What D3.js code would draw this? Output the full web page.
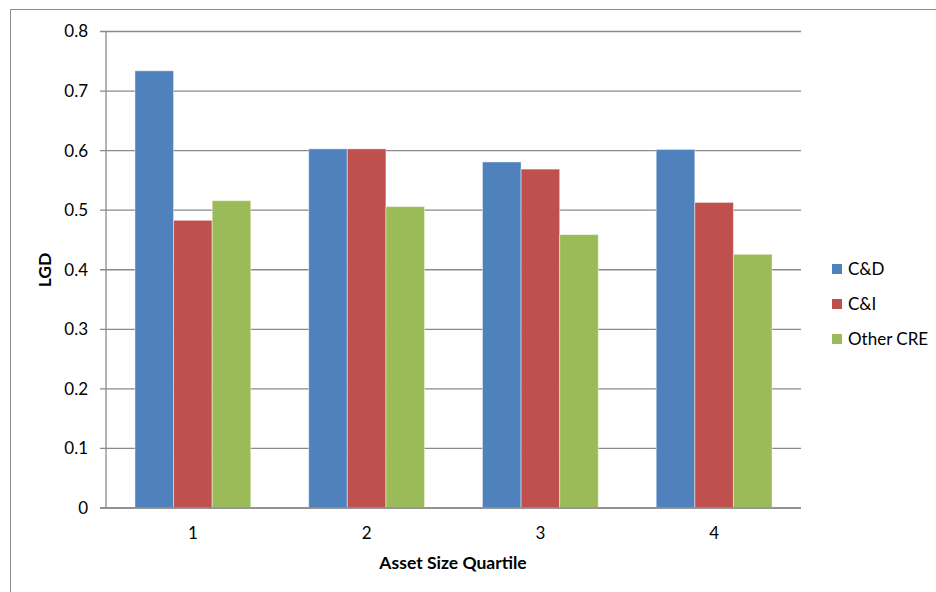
<!DOCTYPE html>
<html>
<head>
<meta charset="utf-8">
<script src="https://cdn.jsdelivr.net/npm/d3@7"></script>
<style>
  body { margin: 0; background: #fff; }
  svg { font-family: Lato, "Open Sans", sans-serif; }
</style>
</head>
<body>
<svg id="chart" width="936" height="592"></svg>
<script>
// Data
const quartiles = ["1", "2", "3", "4"];
const seriesNames = ["C&D", "C&I", "Other CRE"];
const cdValues = [0.734, 0.603, 0.581, 0.602];
const ciValues = [0.483, 0.603, 0.569, 0.513];
const otherCreValues = [0.516, 0.506, 0.459, 0.426];
const yTicks = [0, 0.1, 0.2, 0.3, 0.4, 0.5, 0.6, 0.7, 0.8];
const colors = ["#4F81BD", "#C0504D", "#9BBB59"];

const allSeries = [cdValues, ciValues, otherCreValues];

const svg = d3.select("svg#chart");

// outer chart border (Excel style)
svg.append("path")
    .attr("d", "M10.5,600 V9.5 H940")
    .attr("fill", "none")
    .attr("stroke", "#8c8c8c")
    .attr("stroke-width", 1);

const plotLeft = 106, plotRight = 801, plotTop = 31.5, plotBottom = 508;

const xScale = d3.scaleBand().domain(quartiles).range([plotLeft, plotRight]).paddingInner(0).paddingOuter(0);
const yScale = d3.scaleLinear().domain([0, 0.8]).range([plotBottom, plotTop]);

// Gridlines
svg.append("g")
    .selectAll("line")
    .data(yTicks)
    .enter()
    .append("line")
    .attr("x1", plotLeft - 6)
    .attr("x2", plotRight)
    .attr("y1", d => yScale(d))
    .attr("y2", d => yScale(d))
    .attr("stroke", "#8a8a8a")
    .attr("stroke-width", 1.3);

// Y axis labels
svg.append("g")
    .selectAll("text")
    .data(yTicks)
    .enter()
    .append("text")
    .attr("x", 88)
    .attr("y", d => yScale(d))
    .attr("dy", "0.35em")
    .attr("text-anchor", "end")
    .attr("font-size", 17)
    .attr("fill", "#000")
    .text(d => d === 0 ? "0" : d3.format(".1f")(d));

// Bars: gap width 150% -> bar = band / 4.5
const barW = xScale.bandwidth() / 4.5;
const sub = d3.scaleBand().domain(d3.range(3)).range([0, barW * 3]);

const groups = svg.append("g")
    .selectAll("g")
    .data(quartiles)
    .enter()
    .append("g")
    .attr("transform", d => `translate(${xScale(d) + barW * 0.75},0)`);

groups.selectAll("rect")
    .data((q, i) => allSeries.map((s, j) => ({ j: j, v: s[i] })))
    .enter()
    .append("rect")
    .attr("x", d => sub(d.j))
    .attr("width", sub.bandwidth())
    .attr("y", d => yScale(d.v))
    .attr("height", d => yScale(0) - yScale(d.v))
    .attr("fill", d => colors[d.j])
    .attr("stroke", "rgba(255,255,255,0.45)")
    .attr("stroke-width", 1);

// Axis lines
svg.append("line")
    .attr("x1", plotLeft).attr("x2", plotLeft)
    .attr("y1", plotTop).attr("y2", plotBottom)
    .attr("stroke", "#8a8a8a").attr("stroke-width", 1.3);
svg.append("line")
    .attr("x1", plotLeft - 6).attr("x2", plotRight)
    .attr("y1", plotBottom).attr("y2", plotBottom)
    .attr("stroke", "#8a8a8a").attr("stroke-width", 1.3);

// X axis labels
svg.append("g")
    .selectAll("text")
    .data(quartiles)
    .enter()
    .append("text")
    .attr("x", d => xScale(d) + xScale.bandwidth() / 2)
    .attr("y", 533)
    .attr("dy", "0.35em")
    .attr("text-anchor", "middle")
    .attr("font-size", 17)
    .text(d => d);

// Axis titles
svg.append("text")
    .attr("x", 453)
    .attr("y", 563)
    .attr("dy", "0.35em")
    .attr("text-anchor", "middle")
    .attr("font-size", 17.5)
    .attr("font-weight", "bold")
    .text("Asset Size Quartile");

svg.append("text")
    .attr("transform", "translate(45,270) rotate(-90)")
    .attr("dy", "0.35em")
    .attr("text-anchor", "middle")
    .attr("font-size", 17.5)
    .attr("font-weight", "bold")
    .text("LGD");

// Legend
const legendY = d3.scalePoint().domain(seriesNames).range([269, 339]);
const legend = svg.append("g")
    .selectAll("g")
    .data(seriesNames)
    .enter()
    .append("g")
    .attr("transform", d => `translate(832,${legendY(d)})`);

legend.append("rect")
    .attr("x", 0).attr("y", -5)
    .attr("width", 10).attr("height", 10)
    .attr("fill", (d, i) => colors[i]);

legend.append("text")
    .attr("x", 16)
    .attr("dy", "0.35em")
    .attr("font-size", 17)
    .text(d => d);
</script>
</body>
</html>
